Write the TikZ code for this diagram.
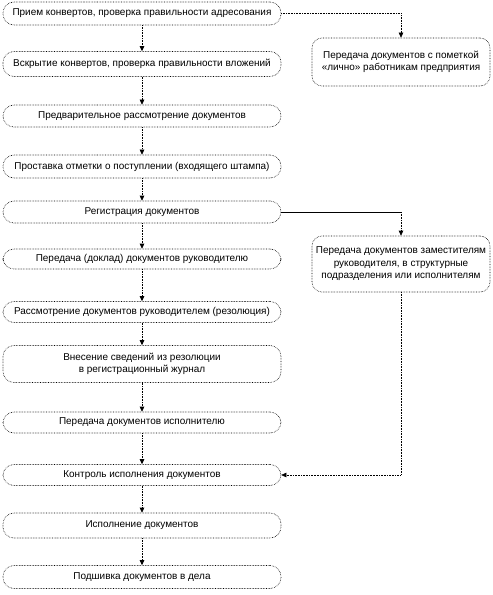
\documentclass[tikz,border=0pt]{standalone}
\usepackage{fontspec}
\setmainfont{Liberation Sans}
\usetikzlibrary{arrows.meta}
\begin{document}
\begin{tikzpicture}[x=1bp,y=-1bp,
  box/.style={draw, densely dotted, line width=0.6pt, rounded corners=11bp, minimum width=278bp, inner sep=1bp, font=\fontsize{10}{12.5}\selectfont, align=center},
  rbox/.style={box, rounded corners=10bp, minimum width=178bp, minimum height=48bp},
  arr/.style={densely dotted, line width=0.6pt, -{Triangle[length=5bp,width=4.5bp]}},
  link/.style={line width=0.6pt},
]
\useasboundingbox (0,0) rectangle (493,595);
\node[box, minimum height=23bp] (b1) at (142,13.5) {Прием конвертов, проверка правильности адресования};
\node[box, minimum height=25bp] (b2) at (142,64) {Вскрытие конвертов, проверка правильности вложений};
\node[box, minimum height=22bp] (b3) at (142,116) {Предварительное рассмотрение документов};
\node[box, minimum height=23bp] (b4) at (142,166.5) {Проставка отметки о поступлении (входящего штампа)};
\node[box, minimum height=22bp] (b5) at (142,212) {Регистрация документов};
\node[box, minimum height=20bp] (b6) at (142,259) {Передача (доклад) документов руководителю};
\node[box, minimum height=21bp] (b7) at (142,312) {Рассмотрение документов руководителем (резолюция)};
\node[box, minimum height=37bp] (b8) at (142,364) {Внесение сведений из резолюции\\в регистрационный журнал};
\node[box, minimum height=21bp] (b9) at (142,422.5) {Передача документов исполнителю};
\node[box, minimum height=21bp] (b10) at (142,475) {Контроль исполнения документов};
\node[box, minimum height=25bp] (b11) at (142,525.5) {Исполнение документов};
\node[box, minimum height=23bp] (b12) at (142,577) {Подшивка документов в дела};
\node[rbox] (r1) at (401,62) {Передача документов с пометкой\\<<лично>> работникам предприятия};
\node[rbox, minimum height=56bp] (r2) at (401,264) {Передача документов заместителям\\руководителя, в структурные\\подразделения или исполнителям};
\draw[arr] (b1) -- (b2);
\draw[arr] (b2) -- (b3);
\draw[arr] (b3) -- (b4);
\draw[arr] (b4) -- (b5);
\draw[arr] (b5) -- (b6);
\draw[arr] (b6) -- (b7);
\draw[arr] (b7) -- (b8);
\draw[arr] (b8) -- (b9);
\draw[arr] (b9) -- (b10);
\draw[arr] (b10) -- (b11);
\draw[arr] (b11) -- (b12);
\draw[arr] (b1.east) -| (r1.north);
\coordinate (c2) at (b5.east -| r2.north);
\draw[link] (b5.east) -- (c2);
\draw[arr] (c2) -- (r2.north);
\draw[arr] (r2.south) |- (b10.east);
\end{tikzpicture}
\end{document}
